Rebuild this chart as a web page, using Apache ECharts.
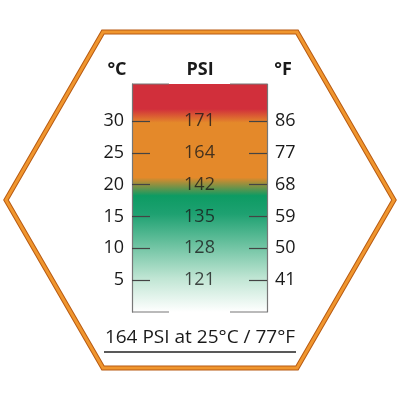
<!DOCTYPE html><html><head><meta charset="utf-8">
<script src="https://cdn.jsdelivr.net/npm/echarts@6/dist/echarts.min.js"></script>
<style>html,body{margin:0;background:#fff}#c{width:400px;height:400px}</style></head><body><div id="c"></div>
<script>
const celsius=[5,10,15,20,25,30];
const fahrenheit=[41,50,59,68,77,86];
const psi=[121,128,135,142,164,171];
const caption='164 PSI at 25°C / 77°F';
const ch=echarts.init(document.getElementById('c'));
const fMap={};celsius.forEach((c,i)=>fMap[c]=fahrenheit[i]);
const F="'Open Sans', sans-serif";
const hex=[[6,200],[103,32],[297,32],[394,200],[297,368],[103,368]];
function yAx(pos,fmt){return {type:'value',min:0,max:35.8,interval:5,position:pos,
   axisLine:{show:true,lineStyle:{color:'#777',width:1.2}},
   axisTick:{show:true,inside:true,length:18,customValues:celsius,lineStyle:{color:'#444',width:1.2}},
   splitLine:{show:false},
   axisLabel:{margin:8,fontSize:18,color:'#1a1a1a',fontFamily:F,customValues:celsius,formatter:fmt}};}
ch.setOption({
 animation:false,
 grid:{left:132,right:133,top:84,bottom:88,show:true,borderWidth:0,
  backgroundColor:new echarts.graphic.LinearGradient(0,0,0,1,[
   {offset:0,color:'#d12f3b'},{offset:0.11,color:'#d12f3b'},{offset:0.17,color:'#e4892a'},
   {offset:0.41,color:'#e4892a'},{offset:0.49,color:'#0d9b63'},{offset:0.57,color:'#1ea171'},
   {offset:0.85,color:'#bfe5d3'},{offset:1,color:'#ffffff'}])},
 xAxis:{type:'value',min:0,max:1,show:false},
 yAxis:[yAx('left',v=>String(v)),yAx('right',v=>fMap[v]!==undefined?String(fMap[v]):'')],
 series:[{type:'scatter',symbolSize:0,data:celsius.map((c,i)=>[0.5,c,psi[i]]),
  label:{show:true,position:'inside',formatter:p=>p.data[2],fontSize:18,color:'#1a1a1a',fontFamily:F}}],
 graphic:[
  {type:'polygon',shape:{points:hex},style:{fill:'none',stroke:'#b85a12',lineWidth:5},z:0},
  {type:'polygon',shape:{points:hex},style:{fill:'none',stroke:'#f0962e',lineWidth:3},z:1},
  {type:'text',x:117,y:70,style:{text:'°C',font:"bold 18px "+F,fill:'#1a1a1a',textAlign:'center',textVerticalAlign:'middle'}},
  {type:'text',x:200,y:70,style:{text:'PSI',font:"bold 18px "+F,fill:'#1a1a1a',textAlign:'center',textVerticalAlign:'middle'}},
  {type:'text',x:283,y:70,style:{text:'°F',font:"bold 18px "+F,fill:'#1a1a1a',textAlign:'center',textVerticalAlign:'middle'}},
  {type:'line',shape:{x1:132,y1:84,x2:169,y2:84},style:{stroke:'#777',lineWidth:1.2}},
  {type:'line',shape:{x1:230,y1:84,x2:267,y2:84},style:{stroke:'#777',lineWidth:1.2}},
  {type:'line',shape:{x1:132,y1:312,x2:169,y2:312},style:{stroke:'#777',lineWidth:1.2}},
  {type:'line',shape:{x1:230,y1:312,x2:267,y2:312},style:{stroke:'#777',lineWidth:1.2}},
  {type:'text',x:200,y:338,style:{text:caption,font:"19px "+F,fill:'#1a1a1a',textAlign:'center',textVerticalAlign:'middle'}},
  {type:'line',shape:{x1:104,y1:352,x2:296,y2:352},style:{stroke:'#222',lineWidth:1.3}}
 ]
});
</script></body></html>
